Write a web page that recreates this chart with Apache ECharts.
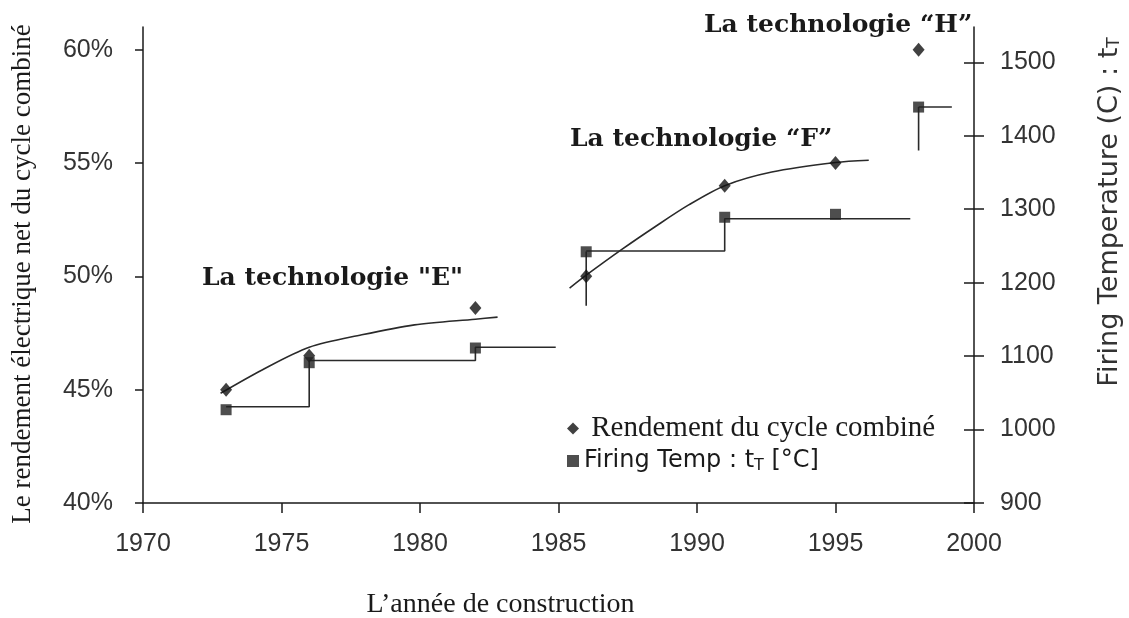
<!DOCTYPE html>
<html>
<head>
<meta charset="utf-8">
<script src="https://cdn.jsdelivr.net/npm/echarts@6/dist/echarts.min.js"></script>
<style>
  html, body { margin: 0; padding: 0; background: #fff; }
  #main { width: 1129px; height: 618px; }
</style>
</head>
<body>
<div id="main"></div>
<script>
// ticks
var yearTicks = [1970, 1975, 1980, 1985, 1990, 1995, 2000];
var pctTicks = [40, 45, 50, 55, 60];
var tempTicks = [900, 1000, 1100, 1200, 1300, 1400, 1500];

// Rendement du cycle combiné (%)
var rendement = [[1973, 45.0], [1976, 46.5], [1982, 48.6], [1986, 50.0], [1991, 54.0], [1995, 55.0], [1998, 60.0]];
// Firing temperature (°C)
var firingTemp = [[1973, 1027], [1976, 1091], [1982, 1111], [1986, 1242], [1991, 1289], [1995, 1293], [1998, 1439]];

// tendances
var courbeE = [[1972.8, 44.84], [1974.3, 45.87], [1976, 46.87], [1977.9, 47.42], [1979.8, 47.86], [1982, 48.11], [1982.8, 48.2]];
var courbeF = [[1985.4, 49.48], [1986, 50.05], [1987.3, 51.2], [1988.5, 52.2], [1989.7, 53.15], [1991, 54.0], [1992.7, 54.6], [1995, 55.02], [1996.2, 55.12]];

// paliers de température
var paliersE = [[1973, 1031], [1976, 1094], [1982, 1112], [1984.9, 1112]];
var paliersF = [[1986, 1243], [1991, 1287], [1997.7, 1287]];
var paliersH = [[1998, 1439], [1999.2, 1439]];
var barreF = [[1986, 48.7], [1986, 51.1]];
var barreH = [[1998, 1380], [1998, 1439]];

var chart = echarts.init(document.getElementById('main'), null, { renderer: 'canvas' });

var tickFont = "'Liberation Sans', sans-serif";
var ink = '#1a1a1a';

function lineSerie(data, yIdx, smooth) {
  return {
    type: 'line',
    yAxisIndex: yIdx,
    data: data,
    step: smooth ? false : 'end',
    smooth: smooth ? 0.3 : false,
    showSymbol: false,
    silent: true,
    lineStyle: { color: '#2a2a2a', width: 1.6 },
    z: 2
  };
}

var option = {
  backgroundColor: '#ffffff',
  animation: false,
  grid: { left: 143, right: 155, top: 27, bottom: 115, containLabel: false, outerBoundsMode: 'none' },
  legend: {
    orient: 'vertical',
    left: 562,
    top: 409,
    itemGap: 5,
    itemWidth: 12,
    itemHeight: 12,
    data: [
      { name: 'Rendement du cycle combiné', icon: 'diamond' },
      { name: 'Firing Temp', icon: 'rect' }
    ],
    formatter: function (name) {
      if (name === 'Firing Temp') return '{s|Firing Temp : t}{sub|T}{s| [°C]}';
      return '{r| ' + name + '}';
    },
    textStyle: {
      color: ink,
      rich: {
        r: { fontFamily: 'Liberation Serif', fontSize: 29, lineHeight: 31 },
        s: { fontFamily: 'DejaVu Sans', fontSize: 24, lineHeight: 31 },
        sub: { fontFamily: 'DejaVu Sans', fontSize: 16, lineHeight: 31, padding: [10, 0, 0, 0] }
      }
    }
  },
  xAxis: {
    type: 'value',
    min: 1970,
    max: 2000,
    interval: 5,
    name: 'L\u2019année de construction',
    nameLocation: 'middle',
    nameGap: 88,
    nameTextStyle: { fontFamily: 'Liberation Serif', fontSize: 28, color: ink, padding: [0, 116, 0, 0] },
    splitLine: { show: false },
    axisLine: { lineStyle: { color: ink, width: 1.5 } },
    axisTick: { length: 10, lineStyle: { color: ink, width: 1.5 }, customValues: yearTicks },
    axisLabel: {
      margin: 29, fontFamily: tickFont, fontSize: 25, color: '#333',
      customValues: yearTicks,
      formatter: function (v) { return String(v); }
    }
  },
  yAxis: [
    {
      type: 'value',
      position: 'left',
      min: 40,
      max: 61,
      name: 'Le rendement électrique net du cycle combiné',
      nameLocation: 'middle',
      nameGap: 107,
      nameRotate: 90,
      nameTextStyle: { fontFamily: 'Liberation Serif', fontSize: 27, color: ink, padding: [0, 18, 0, 0] },
      splitLine: { show: false },
      axisLine: { show: true, lineStyle: { color: ink, width: 1.5 } },
      axisTick: { show: true, length: 8, lineStyle: { color: ink, width: 1.5 }, customValues: pctTicks },
      axisLabel: {
        margin: 30, fontFamily: tickFont, fontSize: 25, color: '#333',
        customValues: pctTicks,
        formatter: function (v) { return v + '%'; }
      }
    },
    {
      type: 'value',
      position: 'right',
      min: 900,
      max: 1548,
      splitLine: { show: false },
      axisLine: { show: true, lineStyle: { color: ink, width: 1.5 } },
      axisTick: { show: true, length: 10, lineStyle: { color: ink, width: 1.5 }, customValues: tempTicks },
      axisLabel: {
        margin: 26, fontFamily: tickFont, fontSize: 25, color: '#333',
        customValues: tempTicks,
        formatter: function (v) { return String(v); }
      }
    },
    {
      // same scale, ticks drawn inward so they cross the right axis
      type: 'value',
      position: 'right',
      min: 900,
      max: 1548,
      splitLine: { show: false },
      axisLine: { show: false },
      axisTick: { show: true, inside: true, length: 10, lineStyle: { color: ink, width: 1.5 }, customValues: tempTicks },
      axisLabel: { show: false }
    }
  ],
  graphic: [
    {
      type: 'text', left: 202, top: 266,
      style: { text: 'La technologie "E"', font: 'bold 25px "DejaVu Serif"', fill: ink }
    },
    {
      type: 'text', left: 570, top: 127,
      style: { text: 'La technologie \u201cF\u201d', font: 'bold 25px "DejaVu Serif"', fill: ink }
    },
    {
      type: 'text', left: 704, top: 13,
      style: { text: 'La technologie \u201cH\u201d', font: 'bold 25px "DejaVu Serif"', fill: ink }
    },
    {
      type: 'text',
      x: 1110, y: 212,
      rotation: Math.PI / 2,
      style: {
        text: '{s|Firing Temperature (C) : t}{sub|T}',
        align: 'center',
        verticalAlign: 'middle',
        fill: '#333',
        rich: {
          s: { fontFamily: 'DejaVu Sans', fontSize: 27, fill: '#333' },
          sub: { fontFamily: 'DejaVu Sans', fontSize: 17, fill: '#333', padding: [10, 0, 0, 0] }
        }
      }
    }
  ],
  series: [
    lineSerie(courbeE, 0, true),
    lineSerie(courbeF, 0, true),
    lineSerie(paliersE, 1, false),
    lineSerie(paliersF, 1, false),
    lineSerie(paliersH, 1, false),
    lineSerie(barreF, 0, false),
    lineSerie(barreH, 1, false),
    {
      name: 'Rendement du cycle combiné',
      type: 'scatter',
      yAxisIndex: 0,
      data: rendement,
      symbol: 'diamond',
      symbolSize: [12, 14],
      itemStyle: { color: '#111' },
      z: 5
    },
    {
      name: 'Firing Temp',
      type: 'scatter',
      yAxisIndex: 1,
      data: firingTemp,
      symbol: 'rect',
      symbolSize: 11,
      itemStyle: { color: '#222' },
      z: 5
    }
  ]
};

chart.setOption(option);
</script>
</body>
</html>
